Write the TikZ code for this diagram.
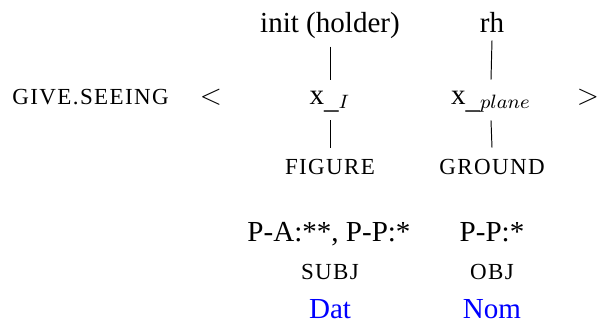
\documentclass[tikz,border=0pt]{standalone}
\usepackage{fontspec}
\setmainfont{Liberation Serif}
\newfontfamily\capsfont[LetterSpace=6]{Liberation Serif}
\newcommand{\smcp}[1]{{\capsfont\fontsize{9.5}{11}\selectfont #1}}
\begin{document}
\begin{tikzpicture}[x=0.413pt,y=-0.413pt,
  every node/.style={inner sep=0pt, font=\fontsize{12}{14}\selectfont},
  lbl/.style={anchor=base},
  mid/.style={anchor=base, text height=8pt, text depth=3pt},
  conn/.style={line width=0.4pt},
  cas/.style={anchor=base, text=blue}]
\useasboundingbox (0,0) rectangle (598,322);
% row 1
\node[lbl] (init) at (330,32) {init (holder)};
\node[lbl] (rh) at (492,32) {rh};
% row 2
\node[anchor=base west] (give) at (12,104) {\smcp{GIVE.SEEING}};
\node[lbl] (lt) at (211,104) {$<$};
\node[mid] (xI) at (330,104) {x$_{\_I}$};
\node[mid] (xp) at (491,104) {x$_{\_plane}$};
\node[lbl] (gt) at (588,104) {$>$};
% row 3
\node[mid] (fig) at (330,174) {\smcp{FIGURE}};
\node[mid] (gr) at (492,174) {\smcp{GROUND}};
% lower rows
\node[lbl] (pa) at (329,241) {P-A:**, P-P:*};
\node[lbl] (pp) at (492,241) {P-P:*};
\node[lbl] (subj) at (330,279) {\smcp{SUBJ}};
\node[lbl] (obj) at (492,279) {\smcp{OBJ}};
\node[cas] (dat) at (330,318) {Dat};
\node[cas] (nom) at (492,318) {Nom};
% connectors
\draw[conn] ([yshift=-3.3pt]init.south) -- ([yshift=1.9pt]xI.north);
\draw[conn] ([yshift=-3.3pt]rh.south) -- ([yshift=1.9pt]xp.north);
\draw[conn] ([yshift=-3.6pt]xI.south) -- ([yshift=2.7pt]fig.north);
\draw[conn] ([yshift=-3.6pt]xp.south) -- ([yshift=2.7pt]gr.north);
\end{tikzpicture}
\end{document}
